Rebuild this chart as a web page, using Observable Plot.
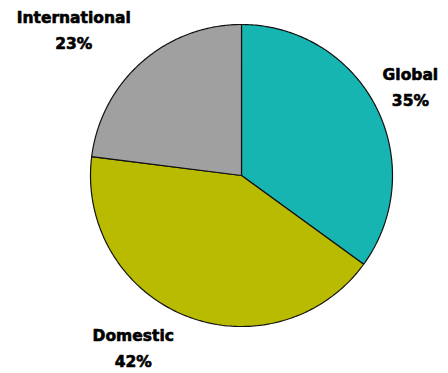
<!DOCTYPE html>
<html><head><meta charset="utf-8">
<script src="https://cdn.jsdelivr.net/npm/d3@7"></script>
<script src="https://cdn.jsdelivr.net/npm/@observablehq/plot@0.6"></script>
<style>body{margin:0;background:#fff}</style></head>
<body><div id="chart"></div>
<script>
const categories = ["Global", "Domestic", "International"];
const values = [35, 42, 23];
const percentLabels = ["35%", "42%", "23%"];
const colors = ["#17B5B1", "#B9BB00", "#A0A0A0"];
const labelNudgeX = [-6, -36, -38];
const labelNudgeY = [-2, -12, -1];

const rows = categories.map((c, i) => ({name: c, value: values[i], pct: percentLabels[i], nx: labelNudgeX[i], ny: labelNudgeY[i]}));
const arcs = d3.pie().sort(null).value(d => d.value)(rows);

// polygon outlines of each slice (unit circle, angle from 12 o'clock clockwise)
const slicePts = [];
for (const a of arcs) {
  slicePts.push({name: a.data.name, x: 0, y: 0});
  const n = 160;
  for (let k = 0; k <= n; k++) {
    const t = a.startAngle + (a.endAngle - a.startAngle) * k / n;
    slicePts.push({name: a.data.name, x: Math.sin(t), y: Math.cos(t)});
  }
}
const labelRows = arcs.map(a => {
  const m = (a.startAngle + a.endAngle) / 2;
  return {x: Math.sin(m) * 1.3, y: Math.cos(m) * 1.3, text: a.data.name + "\n" + a.data.pct, nx: a.data.nx, ny: a.data.ny};
});

const cx = 241, cy = 175, r = 151;
const chart = Plot.plot({
  width: 448, height: 373,
  margin: 0,
  style: {background: "#fff", overflow: "visible"},
  x: {domain: [-1, 1], range: [cx - r, cx + r], axis: null},
  y: {domain: [-1, 1], range: [cy + r, cy - r], axis: null},
  color: {domain: categories, range: colors},
  marks: [
    Plot.line(slicePts, {x: "x", y: "y", z: "name", fill: "name", stroke: "#111", strokeWidth: 1.2, curve: "linear-closed", strokeLinejoin: "miter"}),
    ...labelRows.map(l => Plot.text([l], {x: "x", y: "y", text: "text", dx: l.nx, dy: l.ny, fill: "#000",
      stroke: "#000", strokeWidth: 0.6,
      fontFamily: "DejaVu Sans", fontWeight: "bold", fontSize: 15.5, lineHeight: 26/15.5}))
  ]
});
document.getElementById("chart").appendChild(chart);
</script>
</body></html>
